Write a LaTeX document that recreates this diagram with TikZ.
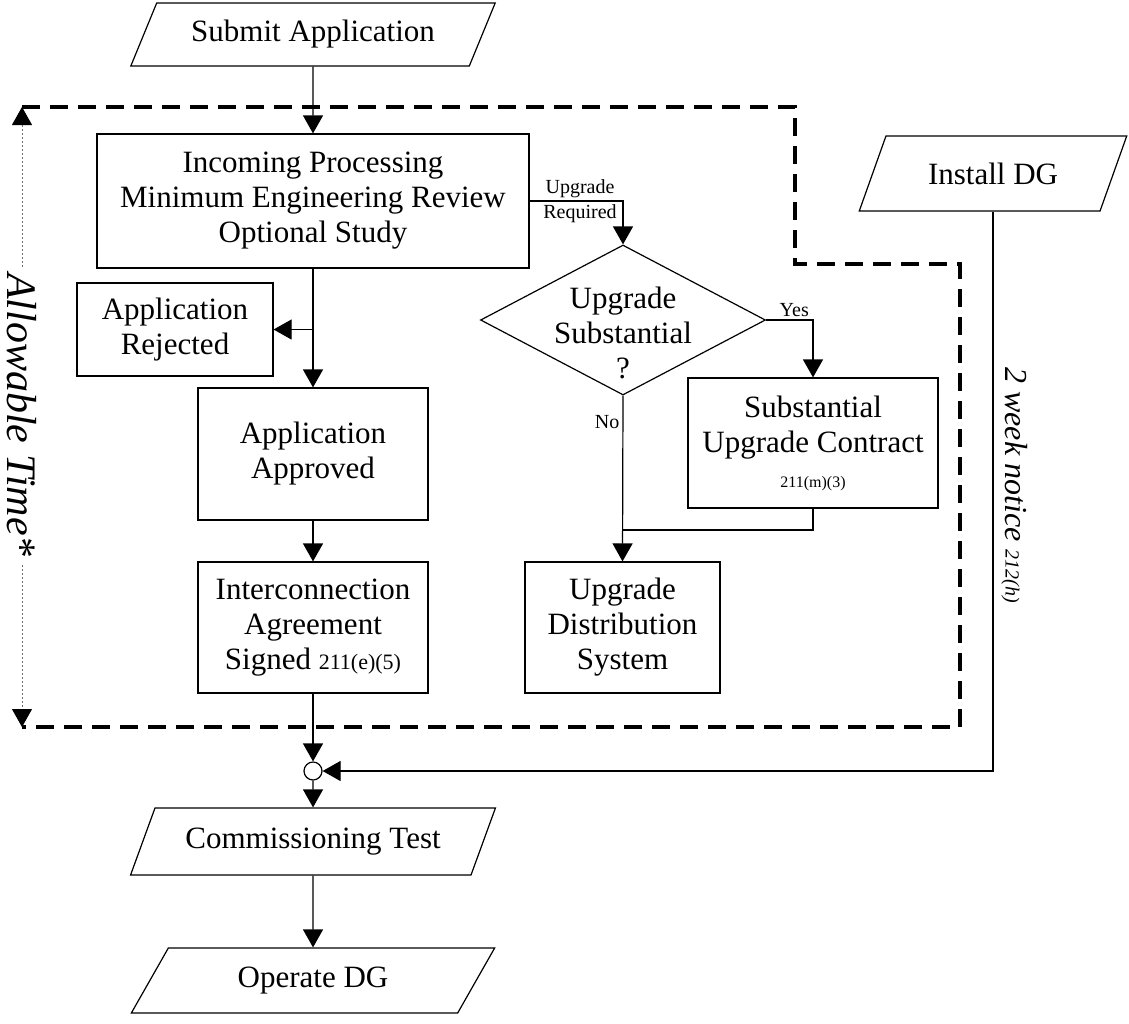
\documentclass[tikz,border=0pt]{standalone}
\usepackage{fontspec}
\setmainfont{Liberation Serif}
\usetikzlibrary{arrows.meta,shapes.geometric,calc}
\definecolor{ink}{HTML}{000000}
\definecolor{timegray}{HTML}{6E6E6E}

\begin{document}
\begin{tikzpicture}[x=0.5pt,y=-0.5pt,
 every node/.style={font=\fontsize{15.5}{17.5}\selectfont,align=center},
 proc/.style={rectangle,draw=ink,line width=0.6pt,inner sep=2pt},
 io/.style={trapezium,trapezium left angle=60,trapezium right angle=120,trapezium stretches=true,draw=ink,line width=0.6pt,inner sep=2pt},
 decision/.style={diamond,draw=ink,line width=0.6pt,inner sep=0pt,minimum width=142.5pt,minimum height=75pt},
 arr/.style={draw=ink,line width=0.6pt,-{Triangle[length=9pt,width=10pt]}},
 lbl/.style={font=\fontsize{10}{12}\selectfont,inner sep=1.5pt}]
\useasboundingbox (0,0) rectangle (1129,1023);
% time window
\draw[ink,line width=2pt,dash pattern=on 9pt off 5pt] (22,107)--(795,107)--(795,264)--(960,264)--(960,727)--(22,727);
\coordinate (ttop) at (22,107);\coordinate (tbot) at (22,727);
\draw[timegray,line width=0.5pt,dash pattern=on 1pt off 1pt,{Triangle[length=9pt,width=10pt,color=ink]}-{Triangle[length=9pt,width=10pt,color=ink]}] (ttop)--(tbot);
\node[fill=white,rotate=-90,font=\fontsize{21}{24}\itshape,inner sep=3pt] (allow) at (22,415){Allowable Time*};
% nodes
\node[io,minimum width=182.5pt,minimum height=31.5pt] (submit) at (313,34.5){Submit Application};
\node[io,minimum width=135pt,minimum height=37.5pt] (install) at (993,173.5){Install DG};
\node[proc,minimum width=216pt,minimum height=67pt] (incoming) at (313,201){Incoming Processing\\Minimum Engineering Review\\Optional Study};
\node[proc,minimum width=98pt,minimum height=46.5pt] (rejected) at (175,329.5){Application\\Rejected};
\node[proc,minimum width=115pt,minimum height=66pt] (approved) at (313,454){Application\\Approved};
\node[proc,minimum width=115pt,minimum height=65.5pt] (signed) at (313,627.5){Interconnection\\Agreement\\Signed {\fontsize{11}{12}\selectfont 211(e)(5)}};
\node[decision] (upsub) at (623,320){};
\node (upsubtxt) at (623,333){Upgrade\\Substantial\\?};
\node[proc,minimum width=125pt,minimum height=65pt] (subcon) at (813,443){Substantial\\Upgrade Contract\\{\fontsize{8}{10}\selectfont 211(m)(3)}};
\node[proc,minimum width=97.5pt,minimum height=65.5pt] (updist) at (622.5,627.5){Upgrade\\Distribution\\System};
\node[circle,draw=ink,line width=0.6pt,minimum size=9pt,inner sep=0pt] (jn) at (313,771){};
\node[io,minimum width=182.5pt,minimum height=33.5pt] (commis) at (313,841.5){Commissioning Test};
\node[io,minimum width=182.5pt,minimum height=32.5pt] (operate) at (313,980.5){Operate DG};
\coordinate (merge) at (623,530);
% connectors
\draw[arr] (submit)--(incoming);
\draw[arr] (incoming)--(approved);
\draw[arr] (rejected.east -| incoming.south)--(rejected.east);
\draw[arr] (approved)--(signed);
\draw[arr] (signed)--(jn);
\draw[arr] (jn)--(commis);
\draw[arr] (commis)--(operate);
\draw[arr] (incoming.east)-|(upsub.north) node[lbl,pos=0.27,above]{Upgrade} node[lbl,pos=0.27,below]{Required};
\draw[arr] (upsub.east)-|(subcon.north) node[lbl,pos=0.3,above]{Yes};
\draw[arr] (upsub.south)--(updist.north) node[lbl,pos=0.16,left]{No};
\draw[ink,line width=0.6pt] (subcon.south)|-(merge);
\draw[arr] (install.south)|-(jn.east);
\node[rotate=-90,font=\fontsize{16}{18}\itshape,anchor=south,inner sep=1.5pt] (notice) at (998,485){2 week notice {\fontsize{10}{12}\selectfont 212(h)}};
\end{tikzpicture}
\end{document}
